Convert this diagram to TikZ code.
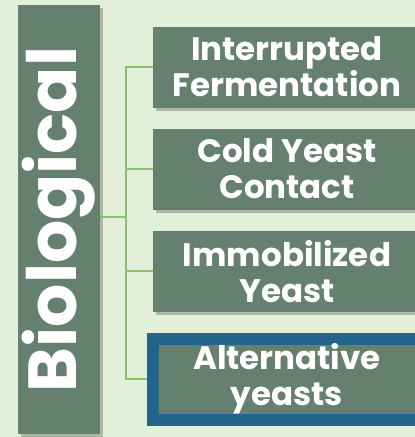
\documentclass[tikz,border=0pt]{standalone}
\usepackage{fontspec}
\setmainfont{Poppins}
\usetikzlibrary{positioning,shadows}

\definecolor{bggreen}{RGB}{226,239,217}
\definecolor{boxgreen}{RGB}{101,128,110}
\definecolor{linegreen}{RGB}{139,190,110}
\definecolor{frameblue}{RGB}{35,100,140}

\tikzset{
  branch/.style={fill=boxgreen, text=white, font=\fontsize{32.5}{36}\selectfont\bfseries,
    minimum width=268pt, minimum height=81pt, align=center, inner sep=0pt,
    drop shadow={shadow xshift=3pt, shadow yshift=-3pt, opacity=0.35, fill=black!70}},
  chosen/.style={draw=frameblue, line width=12pt},
  link/.style={linegreen, line width=2pt}
}

\begin{document}
\begin{tikzpicture}[x=1pt, y=-1pt, node distance=20.7pt]
  \fill[bggreen] (0,0) rectangle (415,437);
  \useasboundingbox (0,0) rectangle (415,437);

  \node[fill=boxgreen, minimum width=82pt, minimum height=429pt, inner sep=0pt,
    drop shadow={shadow xshift=3pt, shadow yshift=-3pt, opacity=0.35, fill=black!70}]
    (bio) at (59,219.5) {};
  \node[rotate=90, text=white, font=\fontsize{68}{70}\selectfont\bfseries] at (bio.center) {Biological};

  \node[branch] (interrupted) at (287,67) {Interrupted\\Fermentation};
  \node[branch] (cold) [below=of interrupted] {Cold Yeast\\Contact};
  \node[branch] (immob) [below=of cold] {Immobilized\\Yeast};
  \node[branch, chosen] (alt) [below=of immob] {Alternative\\yeasts};

  \coordinate (fork) at (126,217);
  \draw[link] (bio.east |- fork) -- (fork);
  \foreach \b in {interrupted,cold,immob,alt}
    \draw[link] (fork) |- (\b.west);
\end{tikzpicture}
\end{document}
